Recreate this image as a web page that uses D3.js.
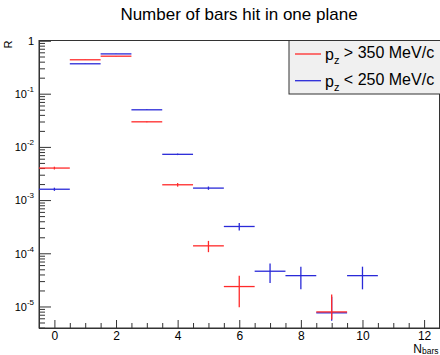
<!DOCTYPE html>
<html>
<head>
<meta charset="utf-8">
<script src="https://cdn.jsdelivr.net/npm/d3@7"></script>
<style>
  html, body { margin: 0; padding: 0; background: #fff; }
  svg { display: block; font-family: "Liberation Sans", Arial, Helvetica, sans-serif; }
</style>
</head>
<body>
<svg id="chart" width="440" height="355"></svg>
<script>
// ---- data ----
const bins = [0, 1, 2, 3, 4, 5, 6, 7, 8, 9, 10, 11, 12];
const redValues  = [4.0e-3, 0.434, 0.507, 0.0296, 1.94e-3, 1.38e-4, 2.37e-5, null, null, 7.9e-6, null, null, null];
const redErrHi   = [2.4e-4, 0.0019, 0.0021, 4.8e-4, 1.5e-4, 3.3e-5, 1.4e-5, null, null, 8.9e-6, null, null, null];
const redErrLo   = [2.4e-4, 0.0019, 0.0021, 4.8e-4, 1.5e-4, 3.3e-5, 1.4e-5, null, null, 2.2e-6, null, null, null];
const blueValues = [1.6e-3, 0.365, 0.56, 0.0498, 7.25e-3, 1.68e-3, 3.19e-4, 4.6e-5, 3.8e-5, 7.6e-6, 3.8e-5, null, null];
const blueErrHi  = [1.1e-4, 0.0017, 0.0021, 6.2e-4, 2.4e-4, 1.2e-4, 5.2e-5, 1.85e-5, 1.8e-5, 7.6e-6, 1.8e-5, null, null];
const blueErrLo  = [1.1e-4, 0.0017, 0.0021, 6.2e-4, 2.4e-4, 1.2e-4, 5.2e-5, 1.85e-5, 1.7e-5, 2.2e-6, 1.7e-5, null, null];
const seriesNames = ["> 350 MeV/c", "< 250 MeV/c"];
const xTickLabels = [0, 2, 4, 6, 8, 10, 12];
const yDecades = [1e-5, 1e-4, 1e-3, 1e-2, 1e-1, 1];
const yExponents = ["-5", "-4", "-3", "-2", "-1", ""];
const titleText = "Number of bars hit in one plane";

const RED = "#ff2a2a", BLUE = "#2a2ad8", AXIS = "#333";

const svg = d3.select("#chart");
const x = d3.scaleLinear().domain([-0.5, 12.5]).range([39, 439.5]);
const y = d3.scaleLog().domain([3.94e-6, 1]).range([328, 40.5]);

// title
svg.append("text").attr("x", 239).attr("y", 20).attr("text-anchor", "middle")
  .attr("font-size", 17).attr("fill", "#000").text(titleText);

// frame
const [x0, x1] = x.range(), [yb, yt] = y.range();
svg.append("rect").attr("x", x0).attr("y", yt).attr("width", x1 - x0).attr("height", yb - yt)
  .attr("fill", "none").attr("stroke", AXIS).attr("stroke-width", 1);

// y axis: minor ticks
const yMinor = [];
for (let e = -6; e <= 0; e++) for (let m = 2; m <= 9; m++) {
  const v = m * Math.pow(10, e);
  if (v >= y.domain()[0] && v <= 1) yMinor.push(v);
}
svg.append("g").attr("transform", `translate(${x0},0)`)
  .call(d3.axisLeft(y).tickValues(yMinor).tickSize(-6).tickFormat(""))
  .call(g => { g.select(".domain").remove(); g.selectAll("line").attr("stroke", AXIS); });
const yMajG = svg.append("g").attr("transform", `translate(${x0},0)`)
  .call(d3.axisLeft(y).tickValues(yDecades).tickSize(-12).tickPadding(5).tickFormat(""))
  .call(g => { g.select(".domain").attr("stroke", AXIS); g.selectAll("line").attr("stroke", AXIS); });
yMajG.selectAll(".tick text").each(function(d, i) {
  const t = d3.select(this).attr("font-size", 11).attr("fill", "#000")
    .attr("font-family", "'Liberation Sans', Arial, sans-serif").attr("dy", "0.35em").attr("x", -5);
  if (yExponents[i] === "") { t.text("1"); }
  else {
    t.append("tspan").text("10");
    t.append("tspan").attr("font-size", 8).attr("dy", "-0.75em").text(yExponents[i]);
  }
});

// x axis
const xMinor = d3.range(-0.5, 12.51, 0.5).filter(v => v % 2 !== 0);
svg.append("g").attr("transform", `translate(0,${yb})`)
  .call(d3.axisBottom(x).tickValues(xMinor).tickSize(-5).tickFormat(""))
  .call(g => { g.select(".domain").remove(); g.selectAll("line").attr("stroke", AXIS); });
svg.append("g").attr("transform", `translate(0,${yb})`)
  .call(d3.axisBottom(x).tickValues(xTickLabels).tickSize(-8).tickPadding(4).tickFormat(d3.format("d")))
  .call(g => {
    g.select(".domain").attr("stroke", AXIS);
    g.selectAll("line").attr("stroke", AXIS);
    g.selectAll("text").attr("font-size", 12).attr("fill", "#000")
      .attr("font-family", "'Liberation Sans', Arial, sans-serif").attr("y", 12).attr("dy", "0");
  });

// axis titles
const xt = svg.append("text").attr("x", x1 - 1).attr("y", 352.5).attr("text-anchor", "end").attr("font-size", 12);
xt.append("tspan").text("N");
xt.append("tspan").attr("font-size", 8.5).attr("dy", "0.2em").text("bars");
svg.append("text").attr("transform", `translate(11.5,${yt}) rotate(-90)`).attr("text-anchor", "end")
  .attr("font-size", 11).text("R");

// data series
function drawSeries(vals, eHi, eLo, color) {
  const g = svg.append("g").attr("stroke", color).attr("stroke-width", 1.3).attr("fill", "none");
  bins.forEach((b, i) => {
    const v = vals[i];
    if (v == null) return;
    g.append("line").attr("x1", x(b - 0.5)).attr("x2", x(b + 0.5)).attr("y1", y(v)).attr("y2", y(v));
    g.append("line").attr("x1", x(b)).attr("x2", x(b))
      .attr("y1", y(v + eHi[i])).attr("y2", y(Math.max(v - eLo[i], y.domain()[0])));
  });
}
drawSeries(blueValues, blueErrHi, blueErrLo, BLUE);
drawSeries(redValues, redErrHi, redErrLo, RED);

// legend
const lg = svg.append("g");
lg.append("rect").attr("x", 289).attr("y", yt).attr("width", 160).attr("height", 53.5)
  .attr("fill", "#f0f0f0").attr("stroke", AXIS).attr("stroke-width", 1);
[RED, BLUE].forEach((c, i) => {
  const ly = 54 + i * 26.7;
  lg.append("line").attr("x1", 295).attr("x2", 321).attr("y1", ly).attr("y2", ly)
    .attr("stroke", c).attr("stroke-width", 1.3);
  const t = lg.append("text").attr("x", 325).attr("y", ly + 6).attr("font-size", 16).attr("fill", "#000");
  t.append("tspan").text("p");
  t.append("tspan").attr("font-size", 11).attr("dy", "0.35em").text("z");
  t.append("tspan").attr("dy", "-0.35em").text(" " + seriesNames[i]);
});
</script>
</body>
</html>
